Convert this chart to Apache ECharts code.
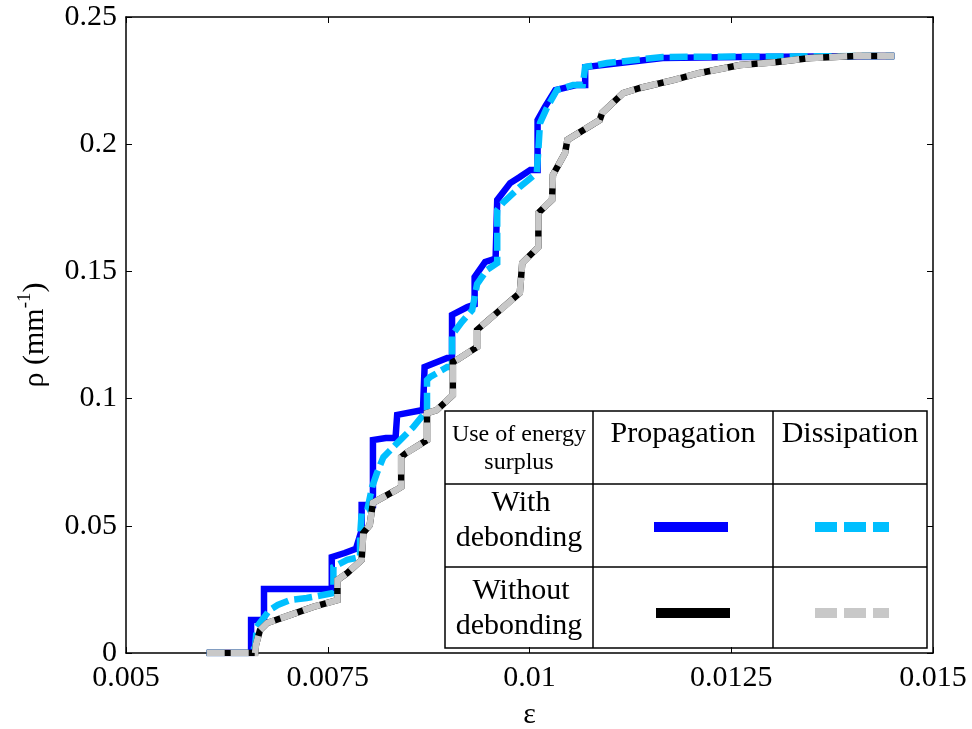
<!DOCTYPE html>
<html>
<head>
<meta charset="utf-8">
<title>rho vs epsilon</title>
<script src="https://cdn.jsdelivr.net/npm/echarts@6/dist/echarts.min.js"></script>
<style>
  html, body { margin: 0; padding: 0; background: #fff; }
  #chart { width: 972px; height: 729px; }
</style>
</head>
<body>
<div id="chart"></div>
<script>
// strain (x) and crack density (y)
const withPropEps = [0.0060, 0.00655, 0.00655, 0.00671, 0.00671, 0.00755, 0.00755, 0.00771, 0.00785, 0.00792, 0.00792, 0.00806, 0.00806, 0.00822, 0.00834, 0.00836, 0.00868, 0.00870, 0.00870, 0.00898, 0.00904, 0.00904, 0.00923, 0.00932, 0.00932, 0.00945, 0.00958, 0.00960, 0.00976, 0.00988, 0.01001, 0.01010, 0.01010, 0.01019, 0.01032, 0.01059, 0.01069, 0.01069, 0.01112, 0.01165, 0.01261, 0.01452]
const withPropRho = [0, 0, 0.0130, 0.0130, 0.0252, 0.0252, 0.0377, 0.0393, 0.0410, 0.0483, 0.0582, 0.0582, 0.0837, 0.0845, 0.0845, 0.0936, 0.0955, 0.0955, 0.1124, 0.1160, 0.1160, 0.1329, 0.1360, 0.1370, 0.1478, 0.1537, 0.1550, 0.1781, 0.1847, 0.1871, 0.1899, 0.1899, 0.2095, 0.2146, 0.2213, 0.2233, 0.2233, 0.2303, 0.2319, 0.2339, 0.2343, 0.2347]

const withDissEps = [0.0060, 0.00655, 0.00660, 0.00662, 0.00678, 0.00688, 0.00703, 0.00724, 0.00744, 0.00757, 0.00757, 0.00774, 0.00790, 0.00790, 0.00792, 0.00799, 0.00805, 0.00811, 0.00819, 0.00836, 0.00856, 0.00873, 0.00873, 0.00877, 0.00898, 0.00904, 0.00904, 0.00916, 0.00929, 0.00935, 0.00947, 0.00960, 0.00960, 0.00967, 0.00988, 0.01009, 0.01011, 0.01013, 0.01022, 0.01034, 0.01054, 0.01066, 0.01069, 0.01096, 0.01165, 0.01452]
const withDissRho = [0, 0, 0.0024, 0.0102, 0.0169, 0.0189, 0.0208, 0.0216, 0.0228, 0.0236, 0.0338, 0.0366, 0.0377, 0.0456, 0.0550, 0.0562, 0.0653, 0.0708, 0.0770, 0.0825, 0.0888, 0.0955, 0.1073, 0.1085, 0.1124, 0.1124, 0.1250, 0.1301, 0.1348, 0.1450, 0.1505, 0.1533, 0.1741, 0.1769, 0.1832, 0.1887, 0.1977, 0.2083, 0.2146, 0.2213, 0.2233, 0.2233, 0.2303, 0.2319, 0.2343, 0.2347]

const withoutPropEps = [0.0060, 0.00660, 0.00661, 0.00666, 0.00675, 0.00703, 0.00732, 0.00762, 0.00762, 0.00774, 0.00792, 0.00794, 0.00802, 0.00806, 0.00835, 0.00841, 0.00841, 0.00847, 0.00873, 0.00873, 0.00885, 0.00905, 0.00905, 0.00910, 0.00935, 0.00935, 0.00988, 0.00991, 0.01011, 0.01011, 0.01028, 0.01029, 0.01044, 0.01047, 0.01087, 0.01090, 0.01116, 0.01137, 0.01178, 0.01211, 0.01261, 0.01307, 0.01348, 0.01406, 0.01452]
const withoutPropRho = [0, 0, 0.0031, 0.0090, 0.0118, 0.0149, 0.0181, 0.0208, 0.0287, 0.0314, 0.0366, 0.0472, 0.0503, 0.0590, 0.0641, 0.0653, 0.0770, 0.0786, 0.0837, 0.0943, 0.0955, 0.1014, 0.1144, 0.1152, 0.1203, 0.1270, 0.1415, 0.1533, 0.1596, 0.1730, 0.1781, 0.1879, 0.1965, 0.2017, 0.2095, 0.2123, 0.2201, 0.2221, 0.2252, 0.2280, 0.2311, 0.2323, 0.2339, 0.2347, 0.2347]

// the dissipation curve without debonding lies right on top of the propagation one
const withoutDissEps = withoutPropEps
const withoutDissRho = withoutPropRho

const serif = '"Liberation Serif", "Times New Roman", serif'

function zip (xs, ys) {
  return xs.map((x, i) => [x, ys[i]])
}

const chart = echarts.init(document.getElementById('chart'))

const lineSeries = function (name, xs, ys, color, dashed) {
  return {
    name: name,
    type: 'line',
    data: zip(xs, ys),
    showSymbol: false,
    symbol: 'none',
    silent: true,
    lineStyle: {
      color: color,
      width: 6.5,
      type: dashed ? [18, 6] : 'solid',
      cap: 'butt',
      join: 'miter'
    }
  }
}

const tickAxisX = {
  type: 'value',
  min: 0.005,
  max: 0.015,
  interval: 0.0025,
  axisLine: { show: true, onZero: false, lineStyle: { color: '#000', width: 1.5 } },
  axisTick: { show: true, inside: true, length: 6, lineStyle: { color: '#000', width: 1 } },
  splitLine: { show: false }
}
const tickAxisY = {
  type: 'value',
  min: 0,
  max: 0.25,
  interval: 0.05,
  axisLine: { show: true, onZero: false, lineStyle: { color: '#000', width: 1.5 } },
  axisTick: { show: true, inside: true, length: 6, lineStyle: { color: '#000', width: 1 } },
  splitLine: { show: false }
}

// legend table (left, top, right, bottom, column and row lines)
const tL = 445, tT = 411, tR = 927, tB = 648
const c1 = 593, c2 = 773, r1 = 484, r2 = 567
const border = { stroke: '#000', lineWidth: 1.5 }

function hLine (x1, x2, y) {
  return { type: 'line', shape: { x1: x1, y1: y, x2: x2, y2: y }, style: border }
}
function vLine (x, y1, y2) {
  return { type: 'line', shape: { x1: x, y1: y1, x2: x, y2: y2 }, style: border }
}
function cellText (text, x, y, size) {
  return {
    type: 'text',
    x: x,
    y: y,
    style: { text: text, font: size + 'px ' + serif, fill: '#000', align: 'center', verticalAlign: 'middle' }
  }
}
function keyLine (x1, x2, y, color, dashed) {
  return {
    type: 'line',
    shape: { x1: x1, y1: y, x2: x2, y2: y },
    style: { stroke: color, lineWidth: 10, lineDash: dashed ? [22, 7] : null }
  }
}

chart.setOption({
  animation: false,
  backgroundColor: '#fff',
  grid: { left: 126, right: 39, top: 17, bottom: 76, containLabel: false, outerBoundsMode: 'none' },
  xAxis: [
    Object.assign({}, tickAxisX, {
      position: 'bottom',
      name: 'ε',
      nameLocation: 'middle',
      nameGap: 47,
      nameTextStyle: { fontFamily: serif, fontSize: 30, color: '#000' },
      axisLabel: {
        fontFamily: serif,
        fontSize: 30,
        color: '#000',
        margin: 10,
        formatter: v => String(parseFloat(v.toFixed(4)))
      }
    }),
    Object.assign({}, tickAxisX, { position: 'top', axisLabel: { show: false } })
  ],
  yAxis: [
    Object.assign({}, tickAxisY, {
      position: 'left',
      name: '{a|ρ (mm}{s|-1}{a|)}',
      nameLocation: 'middle',
      nameGap: 76,
      nameTextStyle: {
        color: '#000',
        rich: {
          a: { fontFamily: serif, fontSize: 30, color: '#000', verticalAlign: 'bottom', lineHeight: 34 },
          s: { fontFamily: serif, fontSize: 19, color: '#000', verticalAlign: 'top', lineHeight: 34 }
        }
      },
      axisLabel: {
        fontFamily: serif,
        fontSize: 30,
        color: '#000',
        margin: 9,
        formatter: v => String(parseFloat(v.toFixed(3)))
      }
    }),
    Object.assign({}, tickAxisY, { position: 'right', axisLabel: { show: false } })
  ],
  series: [
    lineSeries('With debonding – Propagation', withPropEps, withPropRho, '#0000ff', false),
    lineSeries('With debonding – Dissipation', withDissEps, withDissRho, '#00bfff', true),
    lineSeries('Without debonding – Propagation', withoutPropEps, withoutPropRho, '#000000', false),
    lineSeries('Without debonding – Dissipation', withoutDissEps, withoutDissRho, '#c8c8c8', true)
  ],
  graphic: [{
    type: 'group',
    z: 100,
    children: [
      { type: 'rect', shape: { x: tL, y: tT, width: tR - tL, height: tB - tT }, style: { fill: '#fff', stroke: '#000', lineWidth: 1.5 } },
      vLine(c1, tT, tB),
      vLine(c2, tT, tB),
      hLine(tL, tR, r1),
      hLine(tL, tR, r2),
      cellText('Use of energy', (tL + c1) / 2, 435, 24),
      cellText('surplus', (tL + c1) / 2, 463, 24),
      cellText('Propagation', (c1 + c2) / 2, 434, 30),
      cellText('Dissipation', (c2 + tR) / 2, 434, 30),
      cellText('With', (tL + c1) / 2 + 2, 503, 30),
      cellText('debonding', (tL + c1) / 2, 538, 30),
      cellText('Without', (tL + c1) / 2 + 2, 591, 30),
      cellText('debonding', (tL + c1) / 2, 626, 30),
      keyLine(654, 728, 527, '#0000ff', false),
      keyLine(815, 889, 527, '#00bfff', true),
      keyLine(656, 730, 613, '#000000', false),
      keyLine(815, 889, 613, '#c8c8c8', true)
    ]
  }]
})
</script>
</body>
</html>
